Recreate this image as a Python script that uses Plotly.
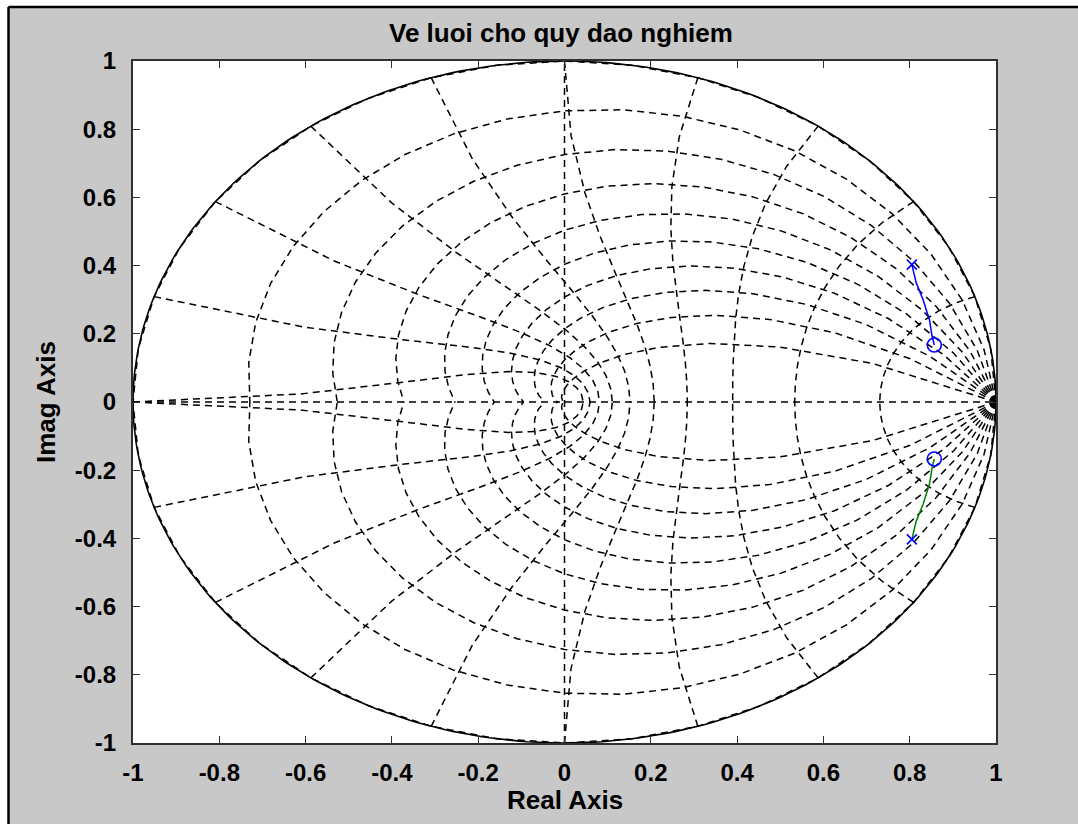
import numpy as np
import plotly.graph_objects as go

# z-plane grid parameters: damping ratios and normalised natural frequencies (x pi/T)
zeta_values = [0.1, 0.2, 0.3, 0.4, 0.5, 0.6, 0.7, 0.8, 0.9]
wn_values = [0.1, 0.2, 0.3, 0.4, 0.5, 0.6, 0.7, 0.8, 0.9, 1.0]

# Root-locus branch in the upper half plane (the lower one is its mirror image)
branch_re = [0.805, 0.815, 0.831, 0.846, 0.852, 0.857]
branch_im = [0.403, 0.350, 0.300, 0.240, 0.192, 0.167]

# Open-loop poles and zeros
pole_re = [0.805, 0.805]
pole_im = [0.403, -0.403]
zero_re = [0.857, 0.857]
zero_im = [0.167, -0.167]

tick_vals = [-1, -0.8, -0.6, -0.4, -0.2, 0, 0.2, 0.4, 0.6, 0.8, 1]
tick_text = ["-1", "-0.8", "-0.6", "-0.4", "-0.2", "0", "0.2", "0.4", "0.6", "0.8", "1"]

W, H = 1078, 824
L, R, T, B = 133, 82, 61, 81


def px_x(p):
    return (p - L) / (W - L - R)


def px_y(p):
    return (H - B - p) / (H - T - B)


# Build dashed grid polylines (separated by None)
gx, gy = [], []


def add_curve(z):
    for sign in (1, -1):
        gx.extend(list(np.real(z)) + [None])
        gy.extend(list(sign * np.imag(z)) + [None])


# constant damping spirals from z = 1
w = np.arange(0, 21) * np.pi / 20
for zeta in zeta_values:
    m = np.tan(np.arcsin(zeta))
    add_curve(np.exp(w * (-m + 1j)))
# upper unit circle as the zeta = 0 line
add_curve(np.exp(1j * w))

# constant natural-frequency curves
theta = np.pi / 2 + np.arange(0, 11) * np.pi / 20
for wn in wn_values:
    add_curve(np.exp(wn * np.pi * np.exp(1j * theta)))

# real and imaginary axes
gx.extend([-1, 1, None, 0, 0, None])
gy.extend([0, 0, None, -1, 1, None])

fig = go.Figure()

fig.add_trace(go.Scatter(
    x=gx, y=gy, mode="lines",
    line=dict(color="black", width=1.5, dash="7px,5px"),
    hoverinfo="skip", showlegend=False,
))

# solid unit circle
phi = np.linspace(0, 2 * np.pi, 361)
fig.add_trace(go.Scatter(
    x=np.cos(phi), y=np.sin(phi), mode="lines",
    line=dict(color="black", width=1.6),
    hoverinfo="skip", showlegend=False,
))

# root-locus branches
fig.add_trace(go.Scatter(
    x=branch_re, y=branch_im, mode="lines",
    line=dict(color="#0000ff", width=1.5), showlegend=False,
))
fig.add_trace(go.Scatter(
    x=branch_re, y=[-v for v in branch_im], mode="lines",
    line=dict(color="#008000", width=1.5), showlegend=False,
))
fig.add_trace(go.Scatter(
    x=pole_re, y=pole_im, mode="markers",
    marker=dict(symbol="x-thin", size=10, line=dict(color="#0000ff", width=1.6)),
    showlegend=False,
))
fig.add_trace(go.Scatter(
    x=zero_re, y=zero_im, mode="markers",
    marker=dict(symbol="circle-open", size=14, color="#0000ff",
                line=dict(color="#0000ff", width=1.6)),
    showlegend=False,
))

tick_font = dict(family="Liberation Sans, Arial, sans-serif", size=24,
                 color="black", weight="bold")
axis_common = dict(
    range=[-1, 1], tickvals=tick_vals, ticktext=tick_text,
    showgrid=False, zeroline=False, showline=True, mirror="ticks",
    linecolor="#303030", linewidth=2, ticks="inside", ticklen=7,
    tickwidth=1, tickcolor="#303030", tickfont=tick_font,
)
fig.update_xaxes(**axis_common, ticklabelstandoff=7)
fig.update_yaxes(**axis_common, ticklabelstandoff=10)

label_font = dict(family="Liberation Sans, Arial, sans-serif", size=26,
                  color="black", weight="bold")
annotations = [
    dict(text="Ve luoi cho quy dao nghiem", x=px_x(561), y=px_y(33), xref="paper",
         yref="paper", showarrow=False, xanchor="center", yanchor="middle",
         font=label_font),
    dict(text="Real Axis", x=0.5, y=px_y(800), xref="paper", yref="paper",
         showarrow=False, xanchor="center", yanchor="middle", font=label_font),
    dict(text="Imag Axis", x=px_x(46), y=0.5, xref="paper", yref="paper",
         showarrow=False, xanchor="center", yanchor="middle", textangle=-90,
         font=label_font),
]

# window frame: white outer strip and black border along the top and left edges
shapes = [
    dict(type="rect", xref="paper", yref="paper", x0=px_x(-5), x1=px_x(8),
         y0=px_y(H + 5), y1=px_y(-5), fillcolor="white", line=dict(width=0)),
    dict(type="rect", xref="paper", yref="paper", x0=px_x(-5), x1=px_x(W + 5),
         y0=px_y(6), y1=px_y(-5), fillcolor="white", line=dict(width=0)),
    dict(type="line", xref="paper", yref="paper", x0=px_x(8.5), x1=px_x(W + 5),
         y0=px_y(7), y1=px_y(7), line=dict(color="black", width=2.5)),
    dict(type="line", xref="paper", yref="paper", x0=px_x(8.5), x1=px_x(8.5),
         y0=px_y(7), y1=px_y(H + 5), line=dict(color="black", width=2.5)),
]

fig.update_layout(
    width=W, height=H, autosize=False,
    margin=dict(l=L, r=R, t=T, b=B),
    paper_bgcolor="#c8c8c8", plot_bgcolor="white",
    annotations=annotations, shapes=shapes, showlegend=False,
)

fig.write_html("out.html")
